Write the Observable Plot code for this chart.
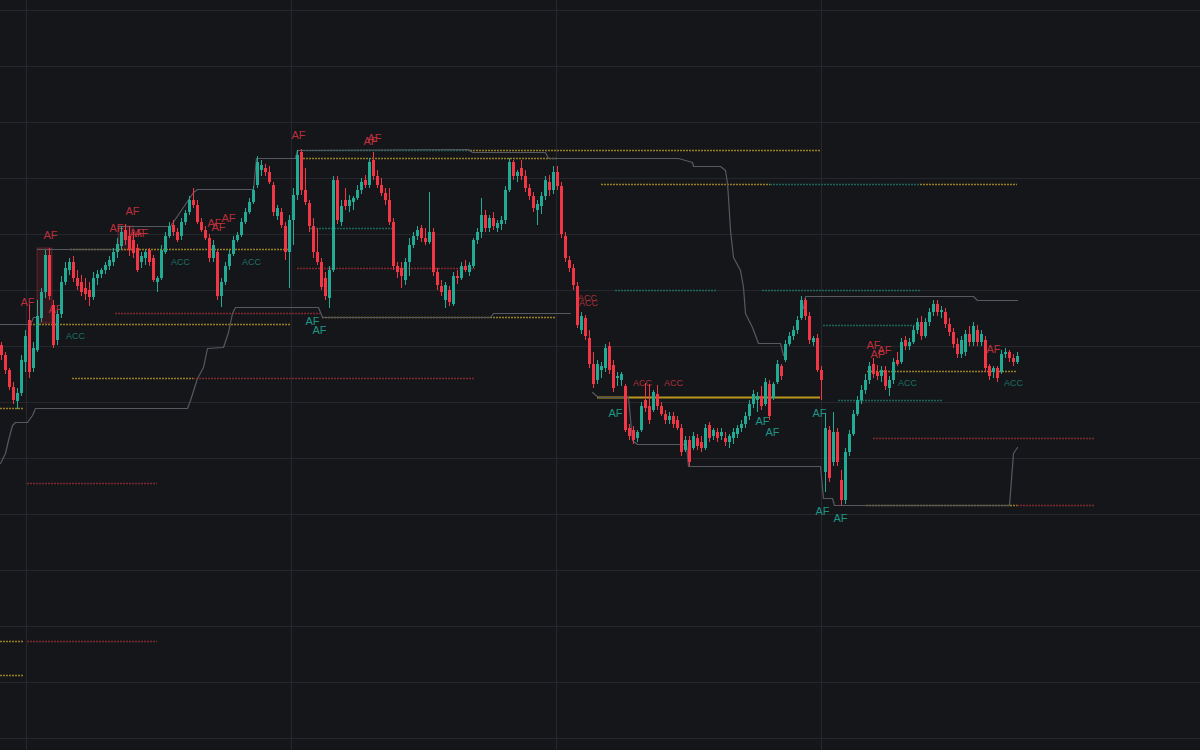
<!DOCTYPE html>
<html>
<head>
<meta charset="utf-8">
<script src="https://cdn.jsdelivr.net/npm/d3@7"></script>
<script src="https://cdn.jsdelivr.net/npm/@observablehq/plot@0.6"></script>
<style>
  html, body { margin: 0; padding: 0; background: #15161a; overflow: hidden; }
  #chart svg { display: block; }
</style>
</head>
<body>
<div id="chart"></div>
<script>
// ---------- DATA (price units, bar index) ----------
const open = [405,395,380,363,349,357,388,430,382,400,432,458,495,445,410,436,468,480,488,472,468,462,460,453,472,476,480,484,488,498,504,520,514,510,502,488,492,500,492,468,472,498,514,525,518,514,528,538,550,545,528,520,512,492,498,454,468,484,496,510,515,528,538,548,565,580,582,578,565,534,538,524,498,530,555,598,560,547,524,498,488,472,452,480,570,528,550,544,548,552,560,570,565,590,574,565,557,550,528,484,482,470,488,505,514,522,512,508,518,478,464,450,460,446,474,472,484,478,484,510,518,535,522,532,522,526,530,560,588,574,582,574,562,554,540,544,554,568,560,578,564,514,490,482,464,420,432,412,386,370,380,382,404,385,372,370,364,322,320,312,320,350,344,340,356,344,336,330,334,330,322,300,310,302,312,308,302,325,314,318,314,312,308,312,316,322,326,334,346,350,354,346,366,352,368,384,390,406,414,420,432,450,434,408,412,380,278,320,288,318,270,250,298,316,336,350,360,370,386,378,374,380,362,370,390,388,410,404,408,420,428,414,428,438,446,438,438,426,418,406,396,398,416,408,420,408,410,384,378,382,378,396,398,392,388];
const high = [408,398,382,368,362,395,420,445,408,450,462,500,502,450,440,474,488,492,494,480,475,472,468,478,480,482,488,494,502,512,524,526,524,518,506,498,500,502,495,474,505,518,528,530,522,532,540,554,562,550,532,524,516,510,500,472,488,500,514,518,532,542,552,564,594,590,586,584,568,545,542,528,535,562,600,601,582,550,532,522,492,478,484,574,574,550,562,555,554,565,572,575,592,598,580,572,562,562,532,488,488,492,512,518,524,525,522,558,522,482,470,468,464,478,480,488,490,488,512,522,552,540,535,538,530,534,564,592,590,580,590,580,566,558,550,558,574,575,584,584,568,518,494,486,468,438,435,420,398,390,388,406,408,390,378,378,366,326,324,320,348,367,366,360,365,348,340,338,338,334,326,314,314,318,316,314,326,328,322,322,322,318,316,322,325,330,338,350,360,358,364,372,370,368,390,386,410,418,424,434,454,452,438,414,416,384,337,324,338,322,280,302,320,340,354,365,376,388,392,385,384,384,374,392,398,412,414,412,424,432,434,432,442,450,450,444,442,432,422,412,414,420,424,428,425,420,414,386,384,384,400,402,400,396,398];
const low = [390,376,360,346,341,354,378,372,378,398,428,452,450,402,405,432,465,475,468,460,454,450,444,450,465,472,476,480,484,492,500,505,494,492,478,482,485,484,468,458,470,496,512,514,508,510,525,535,542,526,518,510,488,488,450,443,465,480,494,508,513,526,536,546,562,574,574,566,534,530,522,490,462,505,550,555,545,518,492,485,460,450,442,478,526,524,540,538,540,550,556,562,562,570,562,554,545,525,480,472,462,465,474,502,510,508,505,506,474,460,454,442,444,444,466,470,478,474,482,506,512,518,518,520,518,520,526,558,570,568,570,558,550,538,525,536,550,554,556,560,512,488,478,460,422,416,410,382,362,366,372,378,376,358,364,364,318,310,306,308,318,338,326,338,340,334,326,326,322,320,294,298,284,300,300,298,300,308,310,308,310,304,302,306,312,318,322,330,342,338,340,344,330,350,366,370,388,404,410,416,430,430,406,404,378,350,258,268,284,284,245,246,294,314,334,346,356,366,372,370,368,360,354,366,384,386,400,400,406,416,410,412,424,434,434,432,422,414,402,392,392,394,404,404,404,404,378,370,372,368,376,392,388,384,386];
const close = [395,380,363,350,357,390,414,378,402,434,458,495,454,405,436,468,482,488,472,464,458,456,453,472,476,480,485,490,498,506,518,510,500,497,480,494,498,488,470,472,500,514,524,518,510,528,537,550,545,528,520,512,492,505,454,468,484,496,510,515,528,538,548,560,588,585,578,568,538,542,525,498,530,555,595,560,548,524,498,488,463,454,480,570,530,544,544,550,552,560,568,565,588,574,565,557,550,528,484,478,474,488,505,514,520,512,508,518,478,465,458,465,448,474,472,484,480,485,510,518,535,522,532,524,527,530,560,588,574,578,574,562,554,542,546,554,570,560,578,564,516,492,482,465,425,434,414,386,366,386,384,402,380,362,374,376,320,314,310,318,344,342,330,358,344,336,330,334,326,322,298,310,288,314,304,302,322,312,320,312,318,308,314,318,322,326,334,346,356,354,344,368,334,366,386,374,406,414,420,430,450,434,410,412,380,370,322,272,318,288,250,298,316,336,350,360,370,384,376,374,380,364,370,388,386,408,404,408,420,428,414,428,438,446,438,440,426,418,406,396,410,416,408,424,408,416,382,374,382,372,396,398,392,388,394];

// horizontal grid prices and vertical grid bar positions
const hGrid = [740,684,628,572,516,460,404,348,292,236,180,124,68,12];
const vGrid = [6.25,72.5,138.75,205];

// trailing stop lines (null = break)
const upperIdx = [-0.25,7.25,8,9,null, 9,29.25,null, 29.25,42.25,48,49,63,63.75,73.5,74,116.75,117.75,136,136.75,169.25,172.75,173,179.75,181,181.5,181.75,182.25,183,184.75,185.5,186,187.75,189.25,194.75,195.5,null, 200.5,201,243,244,254];
const upperVal = [426,426,433,433,null, 501,501,null, 524,524,558,561,561,592,592,600,601,598,598,592,592,588,584,584,580,567,553,520,493,480,463,437,423,407,407,395,null, 442,454,454,450,450];
const lowerIdx = [-0.25,1,1.75,2.75,3.5,6.5,7.75,8.5,46.5,47.25,49,50.5,51.5,55.5,56.75,57.75,58.5,79.25,80.25,122.25,123,142.25,null, 147.75,149.25,156.75,157.75,159,171.25,171.75,204.75,205.5,207.75,208.25,252,253,254];
const lowerVal = [287,297,310,325,328,328,335,342,342,350,372,383,402,403,418,437,443,443,433,433,437,437,null, 358,353,353,310,306,306,284,284,252,252,245,245,297,303];

// horizontal level lines
const levelVal  = [426,437,372,372,267,109,109,75,342,482,522,600,600,592,433,566,566,566,460,460,425,353,379,350,312,245,245,501];
const levelFrom = [7.25,28.5,17.75,48,6.5,6.5,-0.25,-0.25,-0.25,74,77.25,74,117.25,74,80.25,150,192.25,229.75,153.5,190.25,205.5,149,216.5,209.25,218,216.25,254,17.25];
const levelTo   = [72.25,79.75,48,118.5,39,39,5.75,5.75,5.75,118.5,97.75,117.25,204.75,139,138.5,192.25,229.75,254,179,229.75,229.75,204.75,254,235.25,273.5,254,273.5,72.25];
const levelKind = ["Y","R","Y","R","R","R","Y","Y","Y","R","T","T","Y","Y","Y","Y","T","Y","T","T","T","Ys","Y","T","R","Y","R","Y"];

// shaded zones
const boxFrom = [9, 29.25];
const boxTo   = [12.75, 33];
const boxLow  = [427, 500];
const boxHigh = [502, 524];

// signal labels
const afRedIdx = [6.5,13.5,12.25,28.75,32.75,33.75,35,53.25,54.25,56.75,74.25,92.25,93.25,218,219,220.75,248];
const afRedVal = [448,441,515,522,539,517,517,527,523,532,615,609,612,405,396,400,401];
const afGreenIdx = [77.75,79.5,153.5,190.25,192.75,204.5,205.25,209.75];
const afGreenVal = [429,420,337,329,318,337,239,232];
const accGreenIdx = [18.5,44.75,62.5,226.5,253];
const accGreenVal = [414,488,488,367,367];
const accRedIdx = [146.5,146.75,160.25,168];
const accRedVal = [452,447,367,367];

// ---------- STYLE ----------
const BG = "#15161a", GRID = "#25272c";
const UP = "#22ab94", DOWN = "#f23645";
const levelColor = {Y: "#a6891f", R: "#8c2a33", T: "#1d6e63", Ys: "#b8961c"};
const FONT = "Liberation Sans, Arial, sans-serif";

// ---------- BUILD ----------
const candles = open.map((o, i) => ({i, o, h: high[i], l: low[i], c: close[i]}));
const levels = levelVal.map((v, k) => ({v, a: levelFrom[k], b: levelTo[k], kind: levelKind[k]}));
const upper = upperIdx.map((x, k) => ({x, y: upperVal[k]}));
const lower = lowerIdx.map((x, k) => ({x, y: lowerVal[k]}));
const boxes = boxFrom.map((a, k) => ({a, b: boxTo[k], lo: boxLow[k], hi: boxHigh[k]}));
const pts = (xs, ys) => xs.map((x, k) => ({x, y: ys[k]}));

const chart = Plot.plot({
  width: 1200,
  height: 750,
  marginTop: 0, marginRight: 0, marginBottom: 0, marginLeft: 0,
  style: {background: BG, overflow: "visible"},
  x: {type: "linear", domain: [0, 254], range: [1, 1017], axis: null},
  y: {type: "linear", domain: [0, 750], range: [750, 0], axis: null},
  color: {type: "identity"},
  marks: [
    Plot.ruleY(hGrid, {y: d => d, stroke: GRID, strokeWidth: 1.2}),
    Plot.ruleX(vGrid, {x: d => d, stroke: GRID, strokeWidth: 1.2}),
    Plot.rect(boxes, {x1: "a", x2: "b", y1: "lo", y2: "hi", fill: "#f23645", fillOpacity: 0.13, stroke: "#f23645", strokeOpacity: 0.3}),
    Plot.ruleY(levels.filter(d => d.kind !== "Ys"), {y: "v", x1: "a", x2: "b", stroke: d => levelColor[d.kind], strokeWidth: 1.6, strokeDasharray: "2,1", strokeOpacity: 0.9}),
    Plot.ruleY(levels.filter(d => d.kind === "Ys"), {y: "v", x1: "a", x2: "b", stroke: d => levelColor[d.kind], strokeWidth: 2}),
    Plot.line(upper, {x: "x", y: "y", stroke: "#565960", strokeWidth: 1.2, curve: "linear"}),
    Plot.line(lower, {x: "x", y: "y", stroke: "#565960", strokeWidth: 1.2, curve: "linear"}),
    Plot.text(pts(afRedIdx, afRedVal), {x: "x", y: "y", text: () => "AF", fill: "#d0333f", fillOpacity: 0.9, fontSize: 11, fontFamily: FONT}),
    Plot.text(pts(afGreenIdx, afGreenVal), {x: "x", y: "y", text: () => "AF", fill: "#1f9484", fontSize: 11, fontFamily: FONT}),
    Plot.text(pts(accGreenIdx, accGreenVal), {x: "x", y: "y", text: () => "ACC", fill: "#1b7064", fontSize: 9, fontFamily: FONT}),
    Plot.text(pts(accRedIdx, accRedVal), {x: "x", y: "y", text: () => "ACC", fill: "#a8303a", fontSize: 9, fontFamily: FONT}),
    Plot.ruleX(candles, {x: "i", y1: "l", y2: "h", stroke: d => d.c >= d.o ? UP : DOWN, strokeWidth: 1}),
    Plot.ruleX(candles, {x: "i", y1: "o", y2: "c", stroke: d => d.c >= d.o ? UP : DOWN, strokeWidth: 3})
  ]
});
document.getElementById("chart").appendChild(chart);
</script>
</body>
</html>
